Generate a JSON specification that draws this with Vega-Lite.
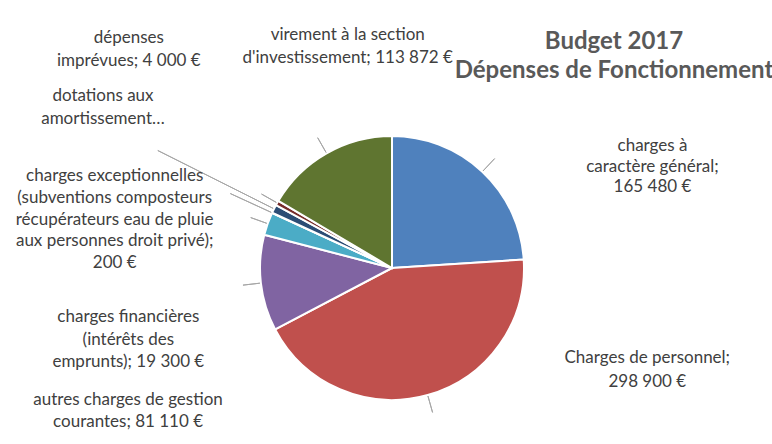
{
  "$schema": "https://vega.github.io/schema/vega-lite/v6.json",
  "width": 760,
  "height": 352,
  "autosize": "none",
  "padding": {"left": 12, "top": 92, "right": 0, "bottom": 0},
  "background": "white",
  "config": {"view": {"stroke": null}, "font": "Lato"},
  "title": {
    "text": ["Budget 2017", "Dépenses de Fonctionnement"],
    "anchor": "end",
    "frame": "group",
    "align": "center",
    "dx": -158,
    "dy": 114,
    "offset": 0,
    "font": "Lato",
    "fontSize": 24,
    "fontWeight": "bold",
    "color": "#595959",
    "lineHeight": 29
  },
  "data": {
    "values": [
      {"category": "charges à caractère général", "value": 165480, "label": "charges à\ncaractère général;\n165 480 €"},
      {"category": "Charges de personnel", "value": 298900, "label": "Charges de personnel;\n298 900 €"},
      {"category": "autres charges de gestion courantes", "value": 81110, "label": "autres charges de gestion\ncourantes; 81 110 €"},
      {"category": "charges financières (intérêts des emprunts)", "value": 19300, "label": "charges financières\n(intérêts des\nemprunts); 19 300 €"},
      {"category": "charges exceptionnelles (subventions composteurs récupérateurs eau de pluie aux personnes droit privé)", "value": 200, "label": "charges exceptionnelles\n(subventions composteurs\nrécupérateurs eau de pluie\naux personnes droit privé);\n200 €"},
      {"category": "dotations aux amortissements", "value": 7138, "label": "dotations aux\namortissement…"},
      {"category": "dépenses imprévues", "value": 4000, "label": "dépenses\nimprévues; 4 000 €"},
      {"category": "virement à la section d'investissement", "value": 113872, "label": "virement à la section\nd'investissement; 113 872 €"}
    ]
  },
  "transform": [{"stack": "value", "groupby": [], "as": ["v0", "v1"]}],
  "encoding": {
    "theta": {"field": "value", "type": "quantitative", "stack": true},
    "order": {"field": "v0", "type": "quantitative", "sort": "ascending"}
  },
  "layer": [
    {
      "mark": {"type": "arc", "radius": 132, "stroke": "white", "strokeWidth": 2},
      "encoding": {
        "color": {
          "field": "category",
          "type": "nominal",
          "legend": null,
          "scale": {
            "domain": [
              "charges à caractère général",
              "Charges de personnel",
              "autres charges de gestion courantes",
              "charges financières (intérêts des emprunts)",
              "charges exceptionnelles (subventions composteurs récupérateurs eau de pluie aux personnes droit privé)",
              "dotations aux amortissements",
              "dépenses imprévues",
              "virement à la section d'investissement"
            ],
            "range": ["#4F81BD", "#C0504D", "#8064A2", "#4BACC6", "#F79646", "#2C4D75", "#772C2A", "#5F7530"]
          }
        }
      }
    },
    {
      "mark": {"type": "arc", "radius": 150, "radius2": 133, "padAngle": 3.1416, "filled": false, "stroke": "#a6a6a6", "strokeWidth": 1},
      "encoding": {"strokeOpacity": {"condition": {"test": "datum.category === 'dotations aux amortissements' || datum.value === 200", "value": 0}, "value": 1}}
    },
    {
      "mark": {"type": "arc", "radius": 262, "radius2": 133, "padAngle": 3.1416, "filled": false, "stroke": "#a6a6a6", "strokeWidth": 1},
      "encoding": {"strokeOpacity": {"condition": {"test": "datum.category === 'dotations aux amortissements'", "value": 1}, "value": 0}}
    },
    {
      "mark": {"type": "arc", "radius": 178, "radius2": 133, "padAngle": 3.1416, "filled": false, "stroke": "#a6a6a6", "strokeWidth": 1},
      "encoding": {"strokeOpacity": {"condition": {"test": "datum.value === 200", "value": 1}, "value": 0}}
    },
    {
      "mark": {"type": "text", "radius": 160, "dx": 151, "dy": -5, "align": "center", "baseline": "middle", "lineBreak": "\n", "lineHeight": 20.5, "font": "Lato", "fontSize": 17, "color": "#404040"},
      "encoding": {"text": {"condition": {"test": "datum.category === 'charges à caractère général'", "field": "label"}, "value": ""}}
    },
    {
      "mark": {"type": "text", "radius": 160, "dx": 212, "dy": -64, "align": "center", "baseline": "middle", "lineBreak": "\n", "lineHeight": 24, "font": "Lato", "fontSize": 17, "color": "#404040"},
      "encoding": {"text": {"condition": {"test": "datum.category === 'Charges de personnel'", "field": "label"}, "value": ""}}
    },
    {
      "mark": {"type": "text", "radius": 160, "dx": -105, "dy": 114, "align": "center", "baseline": "middle", "lineBreak": "\n", "lineHeight": 22, "font": "Lato", "fontSize": 17, "color": "#404040"},
      "encoding": {"text": {"condition": {"test": "datum.category === 'autres charges de gestion courantes'", "field": "label"}, "value": ""}}
    },
    {
      "mark": {"type": "text", "radius": 160, "dx": -113, "dy": 103, "align": "center", "baseline": "middle", "lineBreak": "\n", "lineHeight": 22.5, "font": "Lato", "fontSize": 17, "color": "#404040"},
      "encoding": {"text": {"condition": {"test": "datum.category === 'charges financières (intérêts des emprunts)'", "field": "label"}, "value": ""}}
    },
    {
      "mark": {"type": "text", "radius": 160, "dx": -132, "dy": -25, "align": "center", "baseline": "middle", "lineBreak": "\n", "lineHeight": 21.8, "font": "Lato", "fontSize": 17, "color": "#404040"},
      "encoding": {"text": {"condition": {"test": "datum.value === 200", "field": "label"}, "value": ""}}
    },
    {
      "mark": {"type": "text", "radius": 160, "dx": -146, "dy": -100, "align": "center", "baseline": "middle", "lineBreak": "\n", "lineHeight": 23, "font": "Lato", "fontSize": 17, "color": "#404040"},
      "encoding": {"text": {"condition": {"test": "datum.category === 'dotations aux amortissements'", "field": "label"}, "value": ""}}
    },
    {
      "mark": {"type": "text", "radius": 160, "dx": -124, "dy": -151, "align": "center", "baseline": "middle", "lineBreak": "\n", "lineHeight": 23, "font": "Lato", "fontSize": 17, "color": "#404040"},
      "encoding": {"text": {"condition": {"test": "datum.category === 'dépenses imprévues'", "field": "label"}, "value": ""}}
    },
    {
      "mark": {"type": "text", "radius": 160, "dx": 35, "dy": -94, "align": "center", "baseline": "middle", "lineBreak": "\n", "lineHeight": 23, "font": "Lato", "fontSize": 17, "color": "#404040"},
      "encoding": {"text": {"condition": {"test": "datum.category === \"virement à la section d'investissement\"", "field": "label"}, "value": ""}}
    }
  ]
}
